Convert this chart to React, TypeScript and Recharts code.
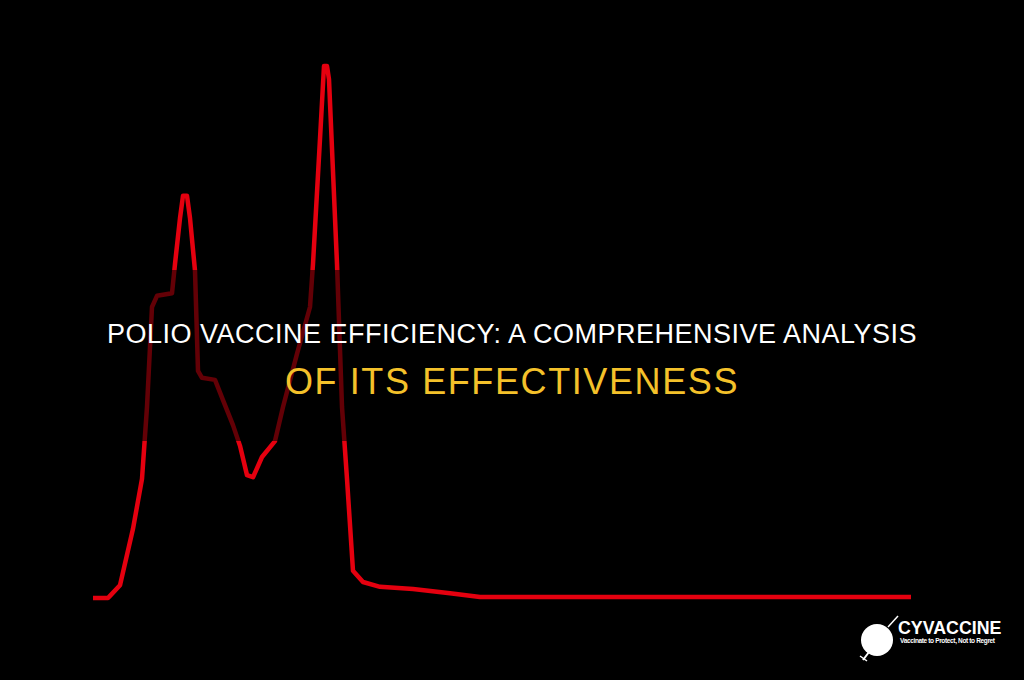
import React from 'react';
import { LineChart, Line, XAxis, YAxis } from 'recharts';

// time steps (relative units) and case level (peak = 100)
const steps = [0, 15, 17, 27, 40, 49, 54, 59, 64, 79, 82, 87, 90, 94, 97, 102, 105, 109, 122, 130, 140, 147, 154, 160, 169, 182, 190, 204, 217, 220, 227, 231, 234, 236, 244, 249, 254, 260, 270, 287, 320, 357, 387, 818];
const cases = [0, 0, 0.4, 2.4, 13, 22.4, 35.9, 54.7, 56.8, 57.3, 62.8, 71.4, 75.6, 75.6, 71.4, 61.5, 42.7, 41.4, 41, 37.2, 32.5, 28.6, 23.1, 22.7, 26.5, 29.5, 35.9, 45.9, 54.7, 62.8, 86.3, 100, 100, 97.5, 62.8, 35.9, 22.4, 5.1, 3, 2.1, 1.7, 0.9, 0.2, 0.2];

const titleLines = ['POLIO VACCINE EFFICIENCY: A COMPREHENSIVE ANALYSIS', 'OF ITS EFFECTIVENESS'];

const data = steps.map((t, i) => ({ t, v: cases[i] }));

const App: React.FC = () => {
  return (
    <div style={{ position: 'fixed', top: 0, left: 0, width: 1024, height: 680, background: '#000', overflow: 'hidden', fontFamily: '"Liberation Sans", Arial, sans-serif' }}>
      <LineChart width={1024} height={680} data={data} margin={{ top: 66, right: 113, bottom: 82, left: 93 }}>
        <XAxis dataKey="t" type="number" domain={[0, 818]} hide />
        <YAxis type="number" domain={[0, 100]} hide />
        <Line
          type="linear"
          dataKey="v"
          stroke="#e5000f"
          strokeWidth={4.5}
          dot={false}
          strokeLinejoin="round"
          isAnimationActive={false}
        />
      </LineChart>

      {/* title band */}
      <div style={{ position: 'absolute', left: 0, top: 270, width: 1024, height: 171, background: 'rgba(0,0,0,0.57)' }} />
      <div style={{ position: 'absolute', left: 0, top: 319, width: 1024, textAlign: 'center', color: '#fff', fontSize: 27, lineHeight: '30px', letterSpacing: 0.5, whiteSpace: 'nowrap' }}>
        {titleLines[0]}
      </div>
      <div style={{ position: 'absolute', left: 0, top: 362, width: 1024, textAlign: 'center', color: '#f4c12a', fontSize: 36, lineHeight: '40px', letterSpacing: 1.6, whiteSpace: 'nowrap' }}>
        {titleLines[1]}
      </div>

      {/* logo */}
      <svg style={{ position: 'absolute', left: 855, top: 612 }} width={45} height={52}>
        <line x1={33} y1={15} x2={43} y2={4} stroke="#fff" strokeWidth={1.5} />
        <circle cx={22} cy={28} r={16} fill="#fff" />
        <line x1={14} y1={40} x2={8} y2={48} stroke="#fff" strokeWidth={2} />
        <line x1={5} y1={44} x2={12} y2={49} stroke="#fff" strokeWidth={1.5} />
      </svg>
      <div style={{ position: 'absolute', left: 898, top: 619, color: '#fff', fontWeight: 'bold', fontSize: 17.8, lineHeight: '18px', whiteSpace: 'nowrap' }}>
        CYVACCINE
      </div>
      <div style={{ position: 'absolute', left: 900, top: 637, color: '#fff', fontWeight: 'bold', fontSize: 6.5, lineHeight: '8px', letterSpacing: -0.35, whiteSpace: 'nowrap' }}>
        Vaccinate to Protect, Not to Regret
      </div>
    </div>
  );
};

export default App;
